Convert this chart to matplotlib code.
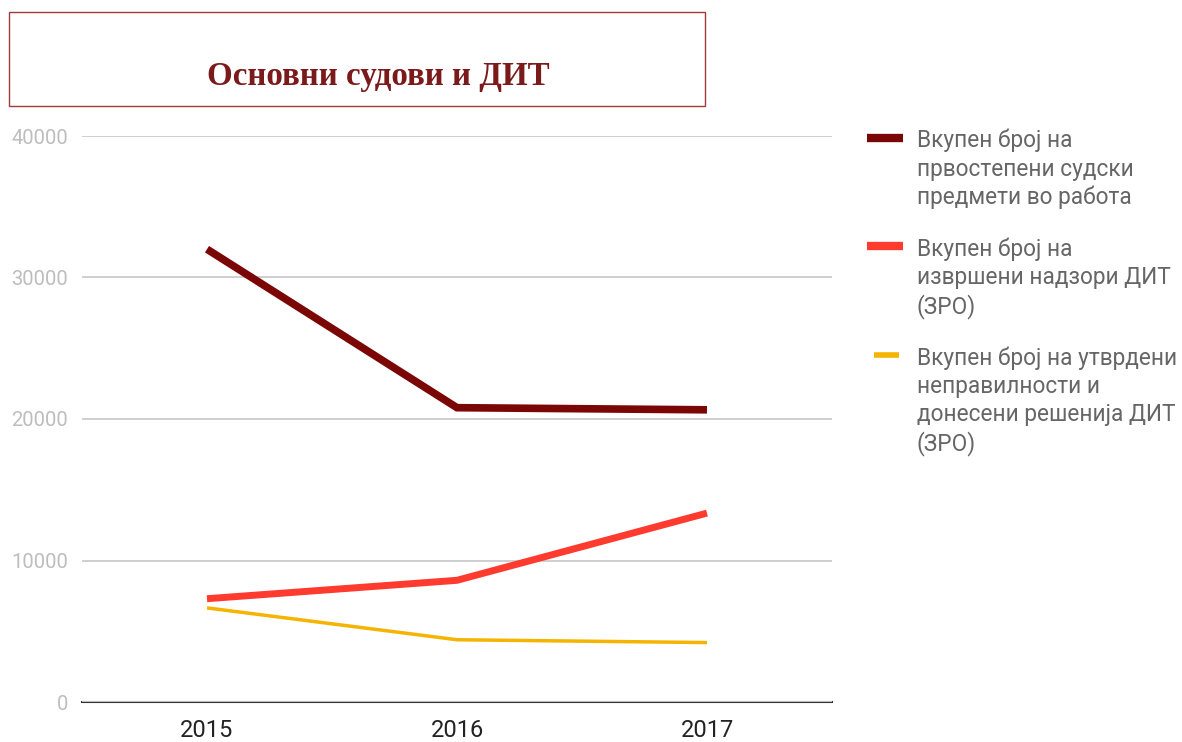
import matplotlib.pyplot as plt
from matplotlib.lines import Line2D
from matplotlib.patches import Rectangle

# data
years = ['2015', '2016', '2017']
cases = [32000, 20800, 20650]          # first instance court cases in work
inspections = [7300, 8600, 13350]      # inspections performed by DIT
decisions = [6650, 4400, 4200]         # irregularities found / decisions

labels = [
    'Вкупен број на\nпрвостепени судски\nпредмети во работа',
    'Вкупен број на\nизвршени надзори ДИТ\n(ЗРО)',
    'Вкупен број на утврдени\nнеправилности и\nдонесени решенија ДИТ\n(ЗРО)',
]
colors = ['#7b0606', '#ff3b30', '#f4b400']
widths = [5.5, 5.0, 2.5]

W, H = 1182, 742
fig = plt.figure(figsize=(W / 100, H / 100), dpi=100)
plt.rcParams['font.family'] = ['Roboto', 'DejaVu Sans']

# axes placed in pixel terms
left, right, bottom, top = 82, 832, 702, 136
ax = fig.add_axes([left / W, 1 - bottom / H, (right - left) / W, (bottom - top) / H])

x = range(len(years))
series = [cases, inspections, decisions]
for vals, c, lw in zip(series, colors, widths):
    ax.plot(x, vals, color=c, linewidth=lw, solid_capstyle='butt', solid_joinstyle='miter')

ax.set_xlim(-0.5, 2.5)
ax.set_ylim(0, 40000)
ax.set_yticks([0, 10000, 20000, 30000, 40000])
ax.set_xticks(list(x))
ax.set_xticklabels(years)
ax.grid(axis='y', color='#cccccc', linewidth=1.3)
ax.set_axisbelow(True)
for s in ['top', 'right', 'left']:
    ax.spines[s].set_visible(False)
ax.spines['bottom'].set_color('#333333')
ax.spines['bottom'].set_linewidth(1.5)
ax.spines['bottom'].set_zorder(0.5)
ax.tick_params(axis='y', length=0, pad=10, labelsize=14.5, labelcolor='#bdbdbd')
ax.tick_params(axis='x', length=0, pad=12, labelsize=17, labelcolor='#222222')

# title in a framed box
fig.add_artist(Rectangle((9 / W, 1 - 106 / H), (705 - 9) / W, (106 - 12) / H,
                         transform=fig.transFigure, fill=False,
                         edgecolor='#9e3a3a', linewidth=1.0))
fig.text(378 / W, 1 - 76 / H, 'Основни судови и ДИТ', ha='center', va='center',
         family='Liberation Serif', fontweight='bold', fontsize=23.8, color='#7b1a1a')

# legend, drawn by hand so the handle sits at the first text line
entry_tops = [138, 246, 355]
handle_len = [(867, 903), (867, 903), (874, 899)]
handle_w = [6.0, 6.0, 4.0]
for lab, c, yt, (x0, x1), hw in zip(labels, colors, entry_tops, handle_len, handle_w):
    fig.add_artist(Line2D([x0 / W, x1 / W], [1 - yt / H, 1 - yt / H],
                          transform=fig.transFigure, color=c, linewidth=hw,
                          solid_capstyle='butt'))
    fig.text(917 / W, 1 - (yt - 9) / H, lab, ha='left', va='top',
             fontsize=16.3, color='#666666', linespacing=1.28)

fig.savefig('out.png', dpi=100)
